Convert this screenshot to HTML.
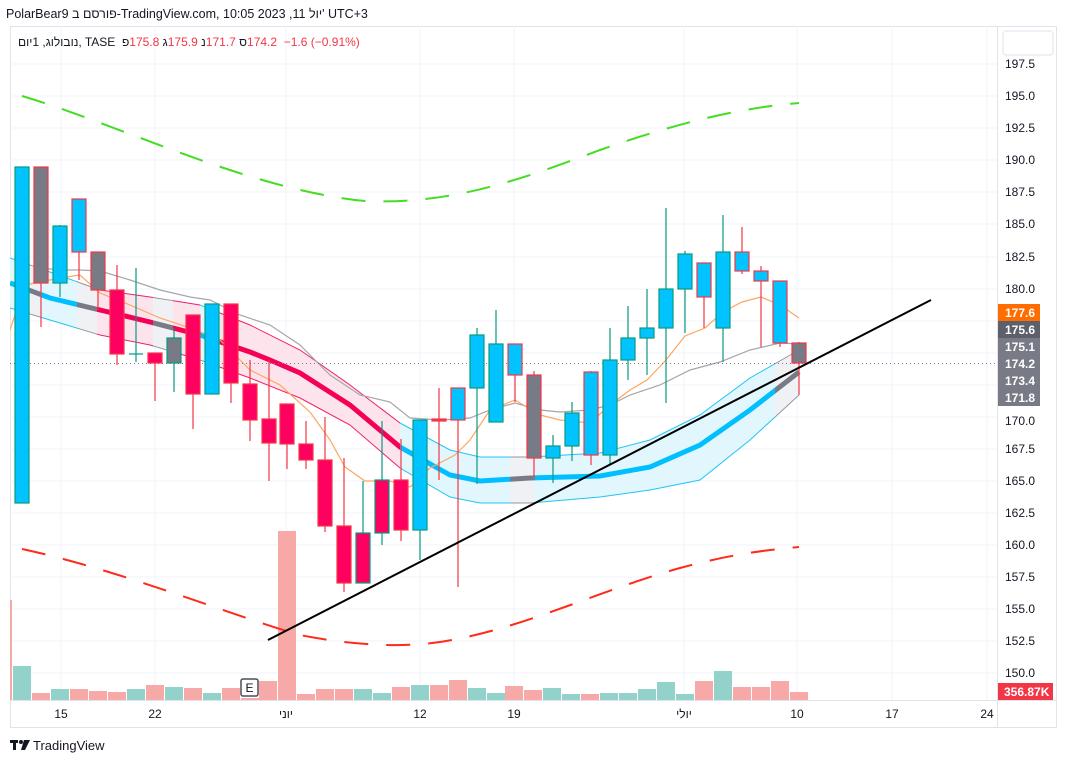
<!DOCTYPE html>
<html><head><meta charset="utf-8"><style>
body{margin:0;background:#fff;width:1067px;height:763px;overflow:hidden;font-family:"Liberation Sans","Noto Sans CJK JP",sans-serif}
.t{position:absolute;white-space:nowrap;font-size:12px;color:#131722;direction:ltr}
.t span{display:inline-block}
</style></head><body>
<svg width="1067" height="763" style="position:absolute;left:0;top:0" font-family="Liberation Sans, sans-serif">
<defs>
<clipPath id="cc"><rect x="0" y="0" width="30" height="763"/><rect x="40" y="0" width="37" height="763"/><rect x="200" y="0" width="20" height="763"/><rect x="400" y="0" width="110" height="763"/><rect x="535" y="0" width="240" height="763"/></clipPath>
<clipPath id="cg"><rect x="30" y="0" width="10" height="763"/><rect x="77" y="0" width="20" height="763"/><rect x="153" y="0" width="20" height="763"/><rect x="510" y="0" width="25" height="763"/><rect x="775" y="0" width="30" height="763"/></clipPath>
<clipPath id="cr"><rect x="97" y="0" width="56" height="763"/><rect x="173" y="0" width="27" height="763"/><rect x="220" y="0" width="180" height="763"/></clipPath>
<clipPath id="plot"><rect x="10" y="26" width="987" height="674"/></clipPath>
</defs>
<rect x="10.5" y="26.5" width="1046" height="701" fill="none" stroke="#e0e3eb"/>
<line x1="997.5" y1="26" x2="997.5" y2="727" stroke="#e0e3eb"/>
<line x1="10" y1="700.5" x2="1057" y2="700.5" stroke="#e0e3eb"/>
<g stroke="#f0f3fa">
<line x1="10" x2="997" y1="64" y2="64"/><line x1="10" x2="997" y1="96" y2="96"/><line x1="10" x2="997" y1="128" y2="128"/><line x1="10" x2="997" y1="160" y2="160"/><line x1="10" x2="997" y1="192" y2="192"/><line x1="10" x2="997" y1="224" y2="224"/><line x1="10" x2="997" y1="257" y2="257"/><line x1="10" x2="997" y1="289" y2="289"/><line x1="10" x2="997" y1="321" y2="321"/><line x1="10" x2="997" y1="353" y2="353"/><line x1="10" x2="997" y1="385" y2="385"/><line x1="10" x2="997" y1="417" y2="417"/><line x1="10" x2="997" y1="449" y2="449"/><line x1="10" x2="997" y1="481" y2="481"/><line x1="10" x2="997" y1="513" y2="513"/><line x1="10" x2="997" y1="545" y2="545"/><line x1="10" x2="997" y1="577" y2="577"/><line x1="10" x2="997" y1="609" y2="609"/><line x1="10" x2="997" y1="641" y2="641"/><line x1="10" x2="997" y1="673" y2="673"/>
<line y1="26" y2="700" x1="61" x2="61"/><line y1="26" y2="700" x1="155" x2="155"/><line y1="26" y2="700" x1="286" x2="286"/><line y1="26" y2="700" x1="420" x2="420"/><line y1="26" y2="700" x1="514" x2="514"/><line y1="26" y2="700" x1="684" x2="684"/><line y1="26" y2="700" x1="797" x2="797"/><line y1="26" y2="700" x1="892" x2="892"/><line y1="26" y2="700" x1="987" x2="987"/>
</g>
<g clip-path="url(#plot)">
<g>
<rect x="10" y="600" width="2" height="100" fill="#f7a9a7"/>
<rect x="13" y="666" width="18" height="34" fill="#92d2ca"/><rect x="32" y="693" width="18" height="7" fill="#f7a9a7"/><rect x="51" y="689" width="18" height="11" fill="#92d2ca"/><rect x="70" y="689" width="18" height="11" fill="#f7a9a7"/><rect x="89" y="691" width="18" height="9" fill="#f7a9a7"/><rect x="108" y="692" width="18" height="8" fill="#f7a9a7"/><rect x="127" y="689" width="18" height="11" fill="#92d2ca"/><rect x="146" y="685" width="18" height="15" fill="#f7a9a7"/><rect x="165" y="687" width="18" height="13" fill="#92d2ca"/><rect x="184" y="688" width="18" height="12" fill="#f7a9a7"/><rect x="203" y="693" width="18" height="7" fill="#92d2ca"/><rect x="222" y="688" width="18" height="12" fill="#f7a9a7"/><rect x="241" y="698" width="18" height="2" fill="#f7a9a7"/><rect x="259" y="681" width="18" height="19" fill="#f7a9a7"/><rect x="278" y="531" width="18" height="169" fill="#f7a9a7"/><rect x="297" y="694" width="18" height="6" fill="#f7a9a7"/><rect x="316" y="689" width="18" height="11" fill="#f7a9a7"/><rect x="335" y="689" width="18" height="11" fill="#f7a9a7"/><rect x="354" y="689" width="18" height="11" fill="#92d2ca"/><rect x="373" y="693" width="18" height="7" fill="#92d2ca"/><rect x="392" y="687" width="18" height="13" fill="#f7a9a7"/><rect x="411" y="685" width="18" height="15" fill="#92d2ca"/><rect x="430" y="685" width="18" height="15" fill="#f7a9a7"/><rect x="449" y="680" width="18" height="20" fill="#f7a9a7"/><rect x="468" y="688" width="18" height="12" fill="#92d2ca"/><rect x="487" y="693" width="18" height="7" fill="#92d2ca"/><rect x="505" y="686" width="18" height="14" fill="#f7a9a7"/><rect x="524" y="690" width="18" height="10" fill="#f7a9a7"/><rect x="543" y="688" width="18" height="12" fill="#92d2ca"/><rect x="562" y="694" width="18" height="6" fill="#92d2ca"/><rect x="581" y="694" width="18" height="6" fill="#f7a9a7"/><rect x="600" y="693" width="18" height="7" fill="#92d2ca"/><rect x="619" y="693" width="18" height="7" fill="#92d2ca"/><rect x="638" y="689" width="18" height="11" fill="#92d2ca"/><rect x="657" y="682" width="18" height="18" fill="#92d2ca"/><rect x="676" y="694" width="18" height="6" fill="#92d2ca"/><rect x="695" y="681" width="18" height="19" fill="#f7a9a7"/><rect x="714" y="671" width="18" height="29" fill="#92d2ca"/><rect x="733" y="687" width="18" height="13" fill="#f7a9a7"/><rect x="752" y="687" width="18" height="13" fill="#f7a9a7"/><rect x="771" y="681" width="18" height="19" fill="#f7a9a7"/><rect x="790" y="692" width="18" height="8" fill="#f7a9a7"/>
</g>
<rect x="241" y="679" width="17" height="17" rx="2" fill="#fff" stroke="#4a4e5a" stroke-width="1.5"/>
<text x="249.5" y="692" font-size="12" text-anchor="middle" fill="#131722">E</text>
<path d="M22,96 C120,125 250,190 365,201 C450,205 520,180 600,150 C680,122 740,108 799,103" fill="none" stroke="#44dd22" stroke-width="2" stroke-dasharray="24,18"/>
<path d="M22,549 C120,570 230,615 300,635 C350,645 400,648 440,642 C520,630 600,590 680,568 C740,552 770,550 799,547" fill="none" stroke="#ff2a1a" stroke-width="2" stroke-dasharray="24,18"/>
<g clip-path="url(#cc)">
<path d="M10,258 L50,272 L100,290 L150,297 L200,305 L250,325 L300,350 L350,385 L400,423 L450,450 L480,457 L530,457 L600,453 L650,440 L700,415 L750,378 L799,350 L799,395 L750,440 L700,480 L650,490 L600,497 L530,503 L480,503 L450,497 L400,468 L350,425 L300,398 L250,378 L200,360 L150,345 L100,335 L50,320 L10,308Z" fill="#e1f7fd"/>
<path d="M10,258 L50,272 L100,290 L150,297 L200,305 L250,325 L300,350 L350,385 L400,423 L450,450 L480,457 L530,457 L600,453 L650,440 L700,415 L750,378 L799,350 M10,308 L50,320 L100,335 L150,345 L200,360 L250,378 L300,398 L350,425 L400,468 L450,497 L480,503 L530,503 L600,497 L650,490 L700,480 L750,440 L799,395" fill="none" stroke="#22c3f5" stroke-width="1"/>
<path d="M10,283 L50,298 L100,310 L150,322 L200,335 L250,352 L270,360 L300,373 L350,405 L400,447 L450,475 L480,481 L530,478 L600,476 L650,467 L700,445 L750,410 L799,372" fill="none" stroke="#00bfff" stroke-width="5"/>
</g>
<g clip-path="url(#cg)">
<path d="M10,258 L50,272 L100,290 L150,297 L200,305 L250,325 L300,350 L350,385 L400,423 L450,450 L480,457 L530,457 L600,453 L650,440 L700,415 L750,378 L799,350 L799,395 L750,440 L700,480 L650,490 L600,497 L530,503 L480,503 L450,497 L400,468 L350,425 L300,398 L250,378 L200,360 L150,345 L100,335 L50,320 L10,308Z" fill="#f0f1f4"/>
<path d="M10,258 L50,272 L100,290 L150,297 L200,305 L250,325 L300,350 L350,385 L400,423 L450,450 L480,457 L530,457 L600,453 L650,440 L700,415 L750,378 L799,350 M10,308 L50,320 L100,335 L150,345 L200,360 L250,378 L300,398 L350,425 L400,468 L450,497 L480,503 L530,503 L600,497 L650,490 L700,480 L750,440 L799,395" fill="none" stroke="#9598a1" stroke-width="1"/>
<path d="M10,283 L50,298 L100,310 L150,322 L200,335 L250,352 L270,360 L300,373 L350,405 L400,447 L450,475 L480,481 L530,478 L600,476 L650,467 L700,445 L750,410 L799,372" fill="none" stroke="#787b86" stroke-width="5"/>
</g>
<g clip-path="url(#cr)">
<path d="M10,258 L50,272 L100,290 L150,297 L200,305 L250,325 L300,350 L350,385 L400,423 L450,450 L480,457 L530,457 L600,453 L650,440 L700,415 L750,378 L799,350 L799,395 L750,440 L700,480 L650,490 L600,497 L530,503 L480,503 L450,497 L400,468 L350,425 L300,398 L250,378 L200,360 L150,345 L100,335 L50,320 L10,308Z" fill="#fde4ec"/>
<path d="M10,258 L50,272 L100,290 L150,297 L200,305 L250,325 L300,350 L350,385 L400,423 L450,450 L480,457 L530,457 L600,453 L650,440 L700,415 L750,378 L799,350 M10,308 L50,320 L100,335 L150,345 L200,360 L250,378 L300,398 L350,425 L400,468 L450,497 L480,503 L530,503 L600,497 L650,490 L700,480 L750,440 L799,395" fill="none" stroke="#f0206a" stroke-width="1"/>
<path d="M10,283 L50,298 L100,310 L150,322 L200,335 L250,352 L270,360 L300,373 L350,405 L400,447 L450,475 L480,481 L530,478 L600,476 L650,467 L700,445 L750,410 L799,372" fill="none" stroke="#f50057" stroke-width="5"/>
</g>
<path d="M40,268 L60,270 L80,270 L100,271 L130,280 L160,290 L190,297 L210,300 L240,315 L270,325 L300,345 L330,375 L360,395 L390,402 L410,418 L440,420 L470,418 L490,410 L515,403 L540,410 L560,412 L590,410 L610,405 L630,395 L660,385 L690,370 L720,362 L750,350 L780,343 L799,344" fill="none" stroke="#a6a6ac" stroke-width="1.2"/>
<path d="M10,330 L25,285 L40,282 L60,278 L80,275 L100,293 L130,305 L160,318 L190,328 L220,340 L250,370 L280,385 L310,412 L330,440 L345,467 L365,481 L390,481 L410,487 L430,468 L455,455 L470,440 L490,410 L515,400 L540,415 L560,420 L590,423 L610,405 L630,390 L647,380 L666,360 L685,336 L705,328 L723,312 L742,302 L761,297 L780,305 L799,318" fill="none" stroke="#ffa560" stroke-width="1.2"/>
<line x1="10" y1="363.5" x2="997" y2="363.5" stroke="#787b86" stroke-dasharray="1,3"/>
<g stroke-width="1.2">
<line x1="22" y1="167" x2="22" y2="503" stroke="#089981"/><rect x="15" y="167" width="14" height="336" fill="#00c3ff" stroke="#089981"/>
<line x1="41" y1="167" x2="41" y2="327" stroke="#f23645"/><rect x="34" y="167" width="14" height="116" fill="#787b86" stroke="#f23645"/>
<line x1="60" y1="225" x2="60" y2="297" stroke="#089981"/><rect x="53" y="226" width="14" height="57" fill="#00c3ff" stroke="#089981"/>
<line x1="79" y1="199" x2="79" y2="280" stroke="#f23645"/><rect x="72" y="199" width="14" height="53" fill="#00c3ff" stroke="#f23645"/>
<line x1="98" y1="252" x2="98" y2="310" stroke="#f23645"/><rect x="91" y="252" width="14" height="38" fill="#787b86" stroke="#f23645"/>
<line x1="117" y1="265" x2="117" y2="365" stroke="#f23645"/><rect x="110" y="290" width="14" height="64" fill="#ff0060" stroke="#f23645"/>
<line x1="136" y1="268" x2="136" y2="362" stroke="#089981"/><line x1="129" y1="354" x2="143" y2="354" stroke="#089981"/>
<line x1="155" y1="353" x2="155" y2="401" stroke="#f23645"/><rect x="148" y="353" width="14" height="10" fill="#ff0060" stroke="#f23645"/>
<line x1="174" y1="328" x2="174" y2="392" stroke="#089981"/><rect x="167" y="338" width="14" height="25" fill="#787b86" stroke="#089981"/>
<line x1="193" y1="315" x2="193" y2="429" stroke="#f23645"/><rect x="186" y="315" width="14" height="79" fill="#ff0060" stroke="#f23645"/>
<rect x="205" y="304" width="14" height="90" fill="#00c3ff" stroke="#089981"/>
<line x1="231" y1="304" x2="231" y2="403" stroke="#f23645"/><rect x="224" y="304" width="14" height="79" fill="#ff0060" stroke="#f23645"/>
<line x1="250" y1="360" x2="250" y2="441" stroke="#f23645"/><rect x="243" y="384" width="14" height="36" fill="#ff0060" stroke="#f23645"/>
<line x1="269" y1="360" x2="269" y2="481" stroke="#f23645"/><rect x="262" y="419" width="14" height="24" fill="#ff0060" stroke="#f23645"/>
<line x1="287" y1="404" x2="287" y2="469" stroke="#f23645"/><rect x="280" y="404" width="14" height="40" fill="#ff0060" stroke="#f23645"/>
<line x1="306" y1="421" x2="306" y2="469" stroke="#f23645"/><rect x="299" y="444" width="14" height="16" fill="#ff0060" stroke="#f23645"/>
<line x1="325" y1="417" x2="325" y2="532" stroke="#f23645"/><rect x="318" y="460" width="14" height="66" fill="#ff0060" stroke="#f23645"/>
<line x1="344" y1="458" x2="344" y2="592" stroke="#f23645"/><rect x="337" y="526" width="14" height="57" fill="#ff0060" stroke="#f23645"/>
<line x1="363" y1="481" x2="363" y2="583" stroke="#089981"/><rect x="356" y="533" width="14" height="50" fill="#ff0060" stroke="#089981"/>
<line x1="382" y1="421" x2="382" y2="545" stroke="#089981"/><rect x="375" y="480" width="14" height="53" fill="#ff0060" stroke="#089981"/>
<line x1="401" y1="439" x2="401" y2="541" stroke="#f23645"/><rect x="394" y="480" width="14" height="50" fill="#ff0060" stroke="#f23645"/>
<line x1="420" y1="420" x2="420" y2="560" stroke="#089981"/><rect x="413" y="420" width="14" height="110" fill="#00c3ff" stroke="#089981"/>
<line x1="439" y1="388" x2="439" y2="480" stroke="#f23645"/><rect x="432" y="419" width="14" height="2" fill="#f23645" stroke="#f23645"/>
<line x1="458" y1="388" x2="458" y2="587" stroke="#f23645"/><rect x="451" y="388" width="14" height="32" fill="#00c3ff" stroke="#f23645"/>
<line x1="477" y1="328" x2="477" y2="484" stroke="#089981"/><rect x="470" y="335" width="14" height="53" fill="#00c3ff" stroke="#089981"/>
<line x1="496" y1="310" x2="496" y2="422" stroke="#089981"/><rect x="489" y="344" width="14" height="78" fill="#00c3ff" stroke="#089981"/>
<line x1="515" y1="344" x2="515" y2="402" stroke="#f23645"/><rect x="508" y="344" width="14" height="31" fill="#00c3ff" stroke="#f23645"/>
<line x1="534" y1="371" x2="534" y2="477" stroke="#f23645"/><rect x="527" y="375" width="14" height="83" fill="#787b86" stroke="#f23645"/>
<line x1="553" y1="435" x2="553" y2="483" stroke="#089981"/><rect x="546" y="446" width="14" height="12" fill="#00c3ff" stroke="#089981"/>
<line x1="572" y1="402" x2="572" y2="461" stroke="#089981"/><rect x="565" y="413" width="14" height="33" fill="#00c3ff" stroke="#089981"/>
<line x1="591" y1="371" x2="591" y2="465" stroke="#f23645"/><rect x="584" y="372" width="14" height="83" fill="#00c3ff" stroke="#f23645"/>
<line x1="610" y1="328" x2="610" y2="465" stroke="#089981"/><rect x="603" y="360" width="14" height="95" fill="#00c3ff" stroke="#089981"/>
<line x1="628" y1="306" x2="628" y2="380" stroke="#089981"/><rect x="621" y="338" width="14" height="22" fill="#00c3ff" stroke="#089981"/>
<line x1="647" y1="289" x2="647" y2="375" stroke="#089981"/><rect x="640" y="328" width="14" height="10" fill="#00c3ff" stroke="#089981"/>
<line x1="666" y1="208" x2="666" y2="403" stroke="#089981"/><rect x="659" y="289" width="14" height="39" fill="#00c3ff" stroke="#089981"/>
<line x1="685" y1="251" x2="685" y2="333" stroke="#089981"/><rect x="678" y="254" width="14" height="35" fill="#00c3ff" stroke="#089981"/>
<line x1="704" y1="263" x2="704" y2="328" stroke="#f23645"/><rect x="697" y="263" width="14" height="34" fill="#00c3ff" stroke="#f23645"/>
<line x1="723" y1="215" x2="723" y2="362" stroke="#089981"/><rect x="716" y="252" width="14" height="76" fill="#00c3ff" stroke="#089981"/>
<line x1="742" y1="227" x2="742" y2="274" stroke="#f23645"/><rect x="735" y="252" width="14" height="19" fill="#00c3ff" stroke="#f23645"/>
<line x1="761" y1="266" x2="761" y2="347" stroke="#f23645"/><rect x="754" y="271" width="14" height="10" fill="#00c3ff" stroke="#f23645"/>
<line x1="780" y1="281" x2="780" y2="347" stroke="#f23645"/><rect x="773" y="281" width="14" height="62" fill="#00c3ff" stroke="#f23645"/>
<line x1="799" y1="342" x2="799" y2="395" stroke="#f23645"/><rect x="792" y="343" width="14" height="20" fill="#787b86" stroke="#f23645"/>
</g>
<line x1="268" y1="640" x2="931" y2="300" stroke="#000" stroke-width="2"/>
</g>
<rect x="1003" y="31" width="50" height="24" rx="3" fill="#fff" stroke="#e0e3eb"/>
<g font-size="12" fill="#131722">
<text x="1005" y="68">197.5</text><text x="1005" y="100">195.0</text><text x="1005" y="132">192.5</text><text x="1005" y="164">190.0</text><text x="1005" y="196">187.5</text><text x="1005" y="228">185.0</text><text x="1005" y="261">182.5</text><text x="1005" y="293">180.0</text><text x="1005" y="425">170.0</text><text x="1005" y="453">167.5</text><text x="1005" y="485">165.0</text><text x="1005" y="517">162.5</text><text x="1005" y="549">160.0</text><text x="1005" y="581">157.5</text><text x="1005" y="613">155.0</text><text x="1005" y="645">152.5</text><text x="1005" y="677">150.0</text>
</g>
<g font-size="12" fill="#fff" font-weight="bold">
<rect x="998" y="304" width="42" height="17" fill="#ff6d00"/><text x="1005" y="317">177.6</text>
<rect x="998" y="321" width="42" height="17" fill="#5d606b"/><text x="1005" y="334">175.6</text>
<rect x="998" y="338" width="42" height="17" fill="#787b86"/><text x="1005" y="351">175.1</text>
<rect x="998" y="355" width="42" height="17" fill="#787b86"/><text x="1005" y="368">174.2</text>
<rect x="998" y="372" width="42" height="17" fill="#787b86"/><text x="1005" y="385">173.4</text>
<rect x="998" y="389" width="42" height="17" fill="#787b86"/><text x="1005" y="402">171.8</text>
<rect x="998" y="683" width="55" height="17" fill="#f23645"/><text x="1004" y="696">356.87K</text>
</g>
<g font-size="12" fill="#131722" text-anchor="middle">
<text x="61" y="718">15</text><text x="155" y="718">22</text><text x="286" y="718">יוני</text><text x="420" y="718">12</text><text x="514" y="718">19</text><text x="684" y="718">יולי</text><text x="797" y="718">10</text><text x="892" y="718">17</text><text x="987" y="718">24</text>
</g>
<g fill="#131722"><rect x="10" y="740" width="8" height="3"/><rect x="13" y="740" width="3" height="10"/><circle cx="21" cy="742" r="2"/><path d="M24,740 L30,740 L25,750 L21,750Z"/></g>
<text x="33" y="750" font-size="13" fill="#131722">TradingView</text>
</svg>
<div class="t" style="left:6px;top:7px;font-size:12.5px">PolarBear9 פורסם ב-TradingView.com, 10:05 2023 ,11 יול' UTC+3</div>
<div class="t" style="left:18px;top:35px;font-size:12px"><span>נובולוג, 1יום</span><span>, TASE&nbsp;&nbsp;</span><span>פ</span><span style="color:#f23645">175.8</span><span>&nbsp;ג</span><span style="color:#f23645">175.9</span><span>&nbsp;נ</span><span style="color:#f23645">171.7</span><span>&nbsp;ס</span><span style="color:#f23645">174.2</span><span style="color:#f23645">&nbsp;&nbsp;−1.6 (−0.91%)</span></div>
</body></html>
